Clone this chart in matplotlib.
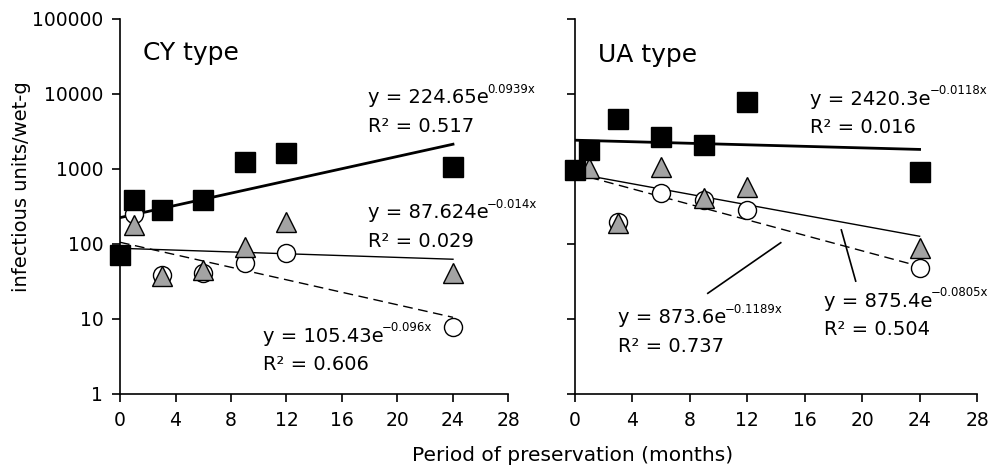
import matplotlib.pyplot as plt
import numpy as np

# CY type
cy_sq_x = [0, 1, 3, 6, 9, 12, 24]
cy_sq_y = [71, 386, 284, 386, 1250, 1620, 1073]
cy_tri_x = [1, 3, 6, 9, 12, 24]
cy_tri_y = [179, 37, 45, 92, 198, 41]
cy_cir_x = [1, 3, 6, 9, 12, 24]
cy_cir_y = [250, 39, 41, 55, 75, 7.9]

# UA type
ua_sq_x = [0, 1, 3, 6, 9, 12, 24]
ua_sq_y = [970, 1790, 4590, 2700, 2090, 7890, 920]
ua_tri_x = [1, 3, 6, 9, 12, 24]
ua_tri_y = [1020, 189, 1073, 406, 581, 87.5]
ua_cir_x = [3, 6, 9, 12, 24]
ua_cir_y = [198, 483, 386, 284, 47.5]

# trendline coefficients (a, b) of y = a*exp(b*x), x range
cy_fits = [(224.65, 0.0939, 0, 24), (87.624, -0.014, 0, 24), (105.43, -0.096, 0, 24)]
ua_fits = [(2420.3, -0.0118, 0, 24), (875.4, -0.0805, 1, 24), (873.6, -0.1189, 1, 24)]

yticks = [1, 10, 100, 1000, 10000, 100000]
xticks = [0, 4, 8, 12, 16, 20, 24, 28]

#********************************************************************************************
def trend(ax, fit, lw, ls):
    a, b, x1, x2 = fit
    xx = np.linspace(x1, x2, 50)
    ax.plot(xx, a*np.exp(b*xx), color='black', linewidth=lw, linestyle=ls, zorder=2)

def markers(ax, sq, tri, cir):
    ax.plot(cir[0], cir[1], 'o', ms=13, mfc='white', mec='black', mew=1.0, ls='none', zorder=3, clip_on=False)
    ax.plot(tri[0], tri[1], '^', ms=15, mfc='#a3a3a3', mec='black', mew=1.0, ls='none', zorder=4, clip_on=False)
    ax.plot(sq[0], sq[1], 's', ms=14, mfc='black', mec='black', ls='none', zorder=5, clip_on=False)

def style(ax, labels):
    ax.set_yscale('log')
    ax.set_ylim(1, 100000)
    ax.set_xlim(0, 28)
    ax.set_xticks(xticks)
    ax.set_xticklabels([str(t) for t in xticks], fontsize=13.5)
    ax.set_yticks(yticks)
    ax.yaxis.set_minor_locator(plt.NullLocator())
    if labels:
        ax.set_yticklabels([str(t) for t in yticks], fontsize=13.5)
    else:
        ax.set_yticklabels([])
    for s in ['top', 'right']:
        ax.spines[s].set_visible(False)
    for s in ['left', 'bottom']:
        ax.spines[s].set_linewidth(1.2)
    ax.tick_params(axis='both', direction='out', length=6, width=1.2, pad=6)

def eq(ax, x, y, a, b, r2):
    t = ax.text(x, y, 'y = {}e'.format(a), transform=ax.transAxes,
                fontsize=14, va='baseline', ha='left')
    ax.annotate(b.replace('-', '\u2212') + 'x', xy=(1, 0.62), xycoords=t,
                xytext=(-1, 0), textcoords='offset points',
                fontsize=8.5, va='bottom', ha='left', annotation_clip=False)
    ax.text(x, y - 0.076, 'R\u00b2 = {}'.format(r2), transform=ax.transAxes,
            fontsize=14, va='baseline', ha='left')

fig = plt.figure(figsize=(9.91, 4.76), dpi=100)
ax1 = fig.add_axes([0.1211, 0.1723, 0.392, 0.7878])
ax2 = fig.add_axes([0.5802, 0.1723, 0.4057, 0.7878])

# CY panel
trend(ax1, cy_fits[0], 2.0, '-')
trend(ax1, cy_fits[1], 1.0, '-')
trend(ax1, cy_fits[2], 1.0, (0, (7, 4)))
markers(ax1, (cy_sq_x, cy_sq_y), (cy_tri_x, cy_tri_y), (cy_cir_x, cy_cir_y))
style(ax1, True)
ax1.text(0.058, 0.891, 'CY type', transform=ax1.transAxes, fontsize=18, va='baseline')
eq(ax1, 0.638, 0.775, '224.65', '0.0939', '0.517')
eq(ax1, 0.638, 0.4685, '87.624', '-0.014', '0.029')
eq(ax1, 0.368, 0.1395, '105.43', '-0.096', '0.606')

# UA panel
trend(ax2, ua_fits[0], 2.0, '-')
trend(ax2, ua_fits[1], 1.0, '-')
trend(ax2, ua_fits[2], 1.0, (0, (7, 4)))
markers(ax2, (ua_sq_x, ua_sq_y), (ua_tri_x, ua_tri_y), (ua_cir_x, ua_cir_y))
style(ax2, False)
ax2.text(0.057, 0.886, 'UA type', transform=ax2.transAxes, fontsize=18, va='baseline')
eq(ax2, 0.585, 0.771, '2420.3', '-0.0118', '0.016')
eq(ax2, 0.107, 0.1884, '873.6', '-0.1189', '0.737')
eq(ax2, 0.62, 0.233, '875.4', '-0.0805', '0.504')
# leader lines from labels to trendlines
ax2.plot([14.33, 9.25], [104, 22], color='black', linewidth=1.2, zorder=2)
ax2.plot([18.55, 19.55], [154, 32], color='black', linewidth=1.2, zorder=2)

fig.text(0.022, 0.607, 'infectious units/wet-g', rotation=90, fontsize=14, ha='center', va='center')
fig.text(0.578, 0.044, 'Period of preservation (months)', fontsize=14.5, ha='center', va='center')

plt.savefig('out.png', dpi=100)
